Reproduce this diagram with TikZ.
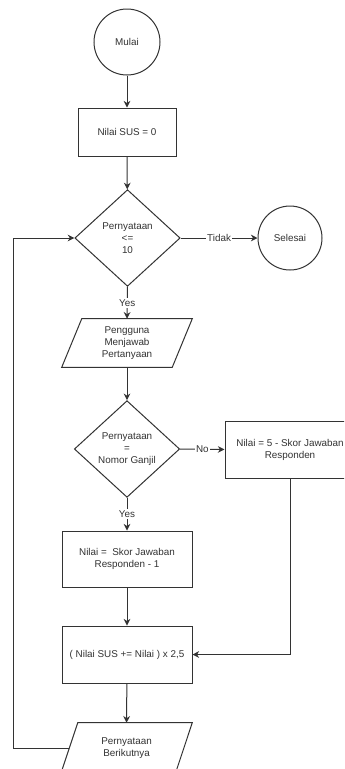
\documentclass[tikz,border=0pt]{standalone}
\usepackage{fontspec}
\setmainfont{Liberation Sans}
\usetikzlibrary{shapes.geometric,arrows.meta,calc}
\definecolor{ln}{HTML}{333333}
\begin{document}
\begin{tikzpicture}[x=0.75pt,y=-0.75pt,
  every node/.style={font=\fontsize{7.4}{9}\selectfont, text=ln, align=center, inner sep=0pt},
  edge/.style={draw=ln, line width=0.75pt},
  flow/.style={edge, -{Stealth[length=5pt,width=5pt]}},
  term/.style={circle, draw=ln, line width=0.75pt},
  box/.style={rectangle, draw=ln, line width=0.75pt, minimum width=97.5pt, minimum height=42pt},
  dec/.style={diamond, draw=ln, line width=0.75pt, minimum width=79pt, minimum height=72.5pt},
  iobox/.style={rectangle, draw=none},
  para/.style={draw=ln, line width=0.75pt, line join=miter},
  lbl/.style={fill=white, inner sep=1pt}
]
\clip (0,0) rectangle (344,769);
\fill[white] (0,0) rectangle (344,769);

\node[term, minimum size=49.5pt] (start) at (127,42) {Mulai};
\node[box, minimum width=73.5pt, minimum height=36pt] (r1) at (127,132) {Nilai SUS = 0};
\node[dec] (d1) at (127.5,238) {Pernyataan\\<=\\10};
\node[term, minimum size=48pt] (end) at (290,238) {Selesai};
\node[iobox, minimum width=82.5pt, minimum height=36pt] (p1) at (127,343) {Pengguna\\Menjawab\\Pertanyaan};
\node[dec] (d2) at (127,449) {Pernyataan\\=\\Nomor Ganjil};
\node[box, minimum height=42.75pt] (r5) at (290,449.5) {Nilai = 5 - Skor Jawaban\\Responden};
\node[box] (r2) at (127,559) {Nilai =\ \ Skor Jawaban\\Responden - 1};
\node[box, minimum height=42.75pt] (r3) at (127,654.5) {( Nilai SUS += Nilai ) x 2,5};
\node[iobox, minimum width=85.5pt, minimum height=37.5pt] (p2) at (126.6,748) {Pernyataan\\Berikutnya};
\coordinate (lp) at (13,238);

\draw[para] ($(p1.north west)+(10,0)$) -- ($(p1.north east)+(10,0)$) -- ($(p1.south east)+(-10,0)$) -- ($(p1.south west)+(-10,0)$) -- cycle;
\draw[para] ($(p2.north west)+(8.4,0)$) -- ($(p2.north east)+(8.4,0)$) -- ($(p2.south east)+(-8.4,0)$) -- ($(p2.south west)+(-8.4,0)$) -- cycle;

\draw[flow] (start) -- (r1);
\draw[flow] (r1) -- (d1);
\draw[flow] (d1.east) -- node[lbl] {Tidak} (end.west);
\draw[flow] (d1.south) -- node[lbl, pos=0.5] {Yes} (p1.north);
\draw[flow] (p1.south) -- (d2.north);
\draw[flow] (d2.east) -- node[lbl] {No} (r5.west);
\draw[flow] (d2.south) -- node[lbl] {Yes} (r2.north);
\draw[flow] (r2) -- (r3);
\draw[flow] (r5.south) |- (r3.east);
\draw[flow] (r3) -- (p2.north);
\draw[flow] (p2.west) -| (lp) -- (d1.west);
\end{tikzpicture}
\end{document}
